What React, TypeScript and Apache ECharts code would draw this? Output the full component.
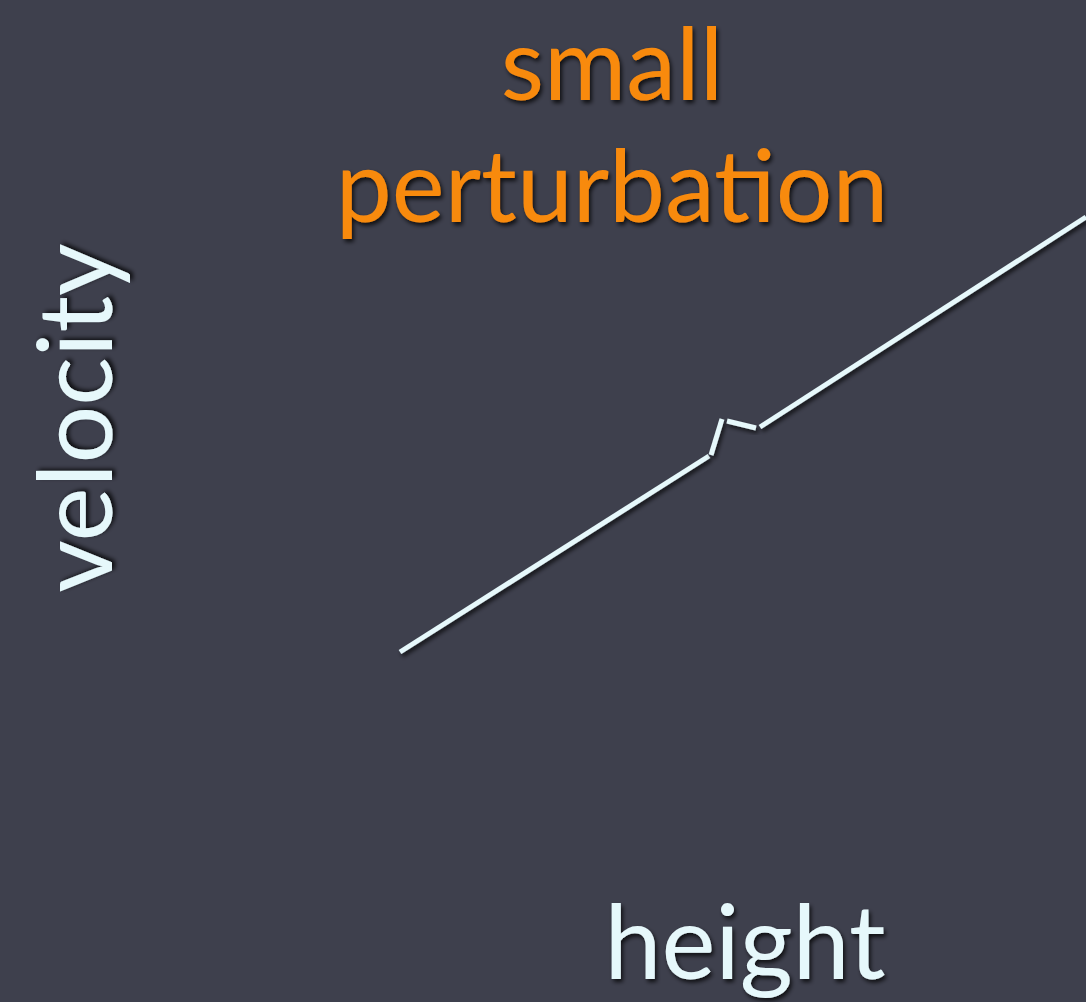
import React, { useEffect, useRef } from "react";
import * as echarts from "echarts";

// Phase-space sketch: velocity against height, with a small kink in the trajectory.
const segmentA: [number, number][] = [[400, 350], [709, 546]];
const segmentB: [number, number][] = [[711, 547], [722, 583]];
const segmentC: [number, number][] = [[727, 581], [756, 574]];
const segmentD: [number, number][] = [[760, 575], [1086, 785]];

const segments = [segmentA, segmentB, segmentC, segmentD];

const titleLines = ["small", "perturbation"];
const xLabel = "height";
const yLabel = "velocity";

const BG = "#3e404d";
const INK = "#e6f8fb";
const ORANGE = "#f88a10";
const FONT = "Lato, 'Open Sans', sans-serif";
const TEXT_SHADOW = { textShadowColor: "rgba(0,0,0,0.75)", textShadowBlur: 4, textShadowOffsetX: 2, textShadowOffsetY: 3 };

function label(text: string, x: number, y: number, size: number, fill: string, rotation = 0) {
  return {
    type: "text",
    x,
    y,
    rotation,
    style: {
      text,
      fill,
      font: `${size}px ${FONT}`,
      lineHeight: size,
      align: "center",
      verticalAlign: "middle",
      ...TEXT_SHADOW,
    },
  };
}

export default function App() {
  const ref = useRef<HTMLDivElement>(null);
  useEffect(() => {
    document.body.style.margin = "0";
    const chart = echarts.init(ref.current!, null, { renderer: "svg" });
    chart.setOption({
      animation: false,
      backgroundColor: BG,
      grid: { left: 0, right: 0, top: 0, bottom: 0 },
      xAxis: { type: "value", min: 0, max: 1086, show: false },
      yAxis: { type: "value", min: 0, max: 1002, show: false },
      series: segments.map((seg) => ({
        type: "line",
        data: seg,
        symbol: "none",
        lineStyle: {
          color: INK,
          width: 5,
          cap: "butt",
          shadowColor: "rgba(0,0,0,0.7)",
          shadowBlur: 4,
          shadowOffsetX: 2,
          shadowOffsetY: 3,
        },
      })),
      graphic: [
        label(titleLines[0], 612, 61, 100, ORANGE),
        label(titleLines[1], 612, 183, 100, ORANGE),
        label(xLabel, 745, 939, 102, INK),
        label(yLabel, 72, 418, 102, INK, Math.PI / 2),
      ],
    });
    return () => chart.dispose();
  }, []);
  return <div ref={ref} style={{ width: 1086, height: 1002 }} />;
}
